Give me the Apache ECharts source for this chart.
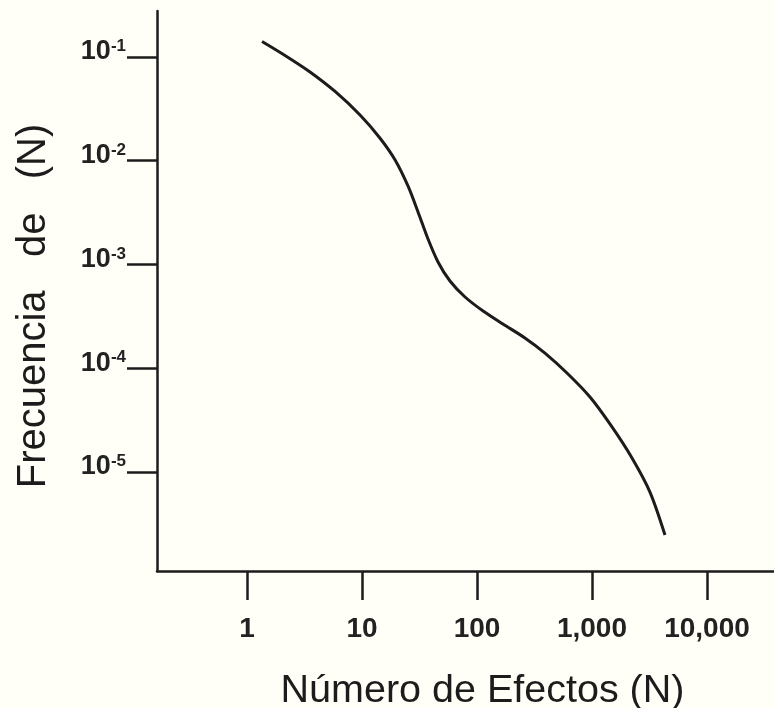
<!DOCTYPE html>
<html>
<head>
<meta charset="utf-8">
<style>
  html, body { margin: 0; padding: 0; background: #fffef7; }
  #chart { width: 774px; height: 708px; }
</style>
<script src="https://cdn.jsdelivr.net/npm/echarts@6/dist/echarts.min.js"></script>
</head>
<body>
<div id="chart"></div>
<script>
// Number of effects (N) along the curve
const effects = [1.35, 2.14, 3.53, 5.83, 9.61, 14.3, 19.4, 25.1, 30.7, 37.5, 45.8, 58.2,
                 78.7, 113, 168, 261, 390, 606, 961, 1493, 2228, 3193, 4315];
// Frequency of N at each of those points
const frequency = [0.141, 0.1034, 0.0717, 0.0465, 0.0276, 0.01657, 0.01017, 0.00571, 0.00321,
                   0.00176, 0.001058, 0.000693, 0.000486, 0.000356, 0.000267, 0.000196,
                   0.000140, 9.0e-5, 5.28e-5, 2.72e-5, 1.365e-5, 6.41e-6, 2.47e-6];

// Decade ticks on each axis
const xTickValues = [1, 10, 100, 1000, 10000];
const xTickLabels = ['1', '10', '100', '1,000', '10,000'];
const yTickExponents = [-1, -2, -3, -4, -5];

const FONT = '"Liberation Sans", Arial, Helvetica, sans-serif';
const INK = '#1c1c1c';

// Both axes are logarithmic: plot log10 of the values on linear axes
const lg = Math.log10;
const points = effects.map((n, i) => [lg(n), lg(frequency[i])]);
const xTickPos = xTickValues.map(lg);
const xLabelOf = {};
xTickPos.forEach((p, i) => { xLabelOf[p] = xTickLabels[i]; });

const chart = echarts.init(document.getElementById('chart'), null, { renderer: 'canvas' });
chart.setOption({
  backgroundColor: '#fffef7',
  animation: false,
  grid: { left: 157, right: 0, top: 11, bottom: 137, containLabel: false, outerBoundsMode: 'none' },
  xAxis: {
    type: 'value',
    min: -0.783,
    max: 4.583,
    name: 'Número de Efectos (N)',
    nameLocation: 'middle',
    nameGap: 100,
    nameTextStyle: { fontFamily: FONT, fontSize: 39.5, color: INK, padding: [0, 0, 0, 34] },
    axisLine: { show: true, onZero: false, lineStyle: { color: INK, width: 2.5 } },
    axisTick: { show: true, customValues: xTickPos, length: 29, lineStyle: { color: INK, width: 2.5 } },
    axisLabel: {
      customValues: xTickPos,
      margin: 44,
      fontFamily: FONT, fontSize: 28, fontWeight: 'bold', color: '#222',
      formatter: v => xLabelOf[v] !== undefined ? xLabelOf[v] : ''
    },
    splitLine: { show: false }
  },
  yAxis: {
    type: 'value',
    min: -5.954,
    max: -0.557,
    name: 'Frecuencia   de   (N)',
    nameLocation: 'middle',
    nameGap: 103,
    nameTextStyle: { fontFamily: FONT, fontSize: 40, color: INK, padding: [0, 30, 0, 0] },
    axisLine: { show: true, onZero: false, lineStyle: { color: INK, width: 2.5 } },
    axisTick: { show: true, customValues: yTickExponents, length: 30, lineStyle: { color: INK, width: 2.5 } },
    axisLabel: {
      customValues: yTickExponents,
      margin: 31,
      padding: [0, 0, 10, 0],
      formatter: v => '{b|10}{s|' + v + '}',
      rich: {
        b: { fontFamily: FONT, fontSize: 27, fontWeight: 'bold', color: '#222', lineHeight: 28 },
        s: { fontFamily: FONT, fontSize: 17, fontWeight: 'bold', color: '#222', verticalAlign: 'top', lineHeight: 18 }
      }
    },
    splitLine: { show: false }
  },
  series: [{
    type: 'line',
    data: points,
    smooth: 0.3,
    showSymbol: false,
    lineStyle: { color: INK, width: 3 }
  }]
});
</script>
</body>
</html>
